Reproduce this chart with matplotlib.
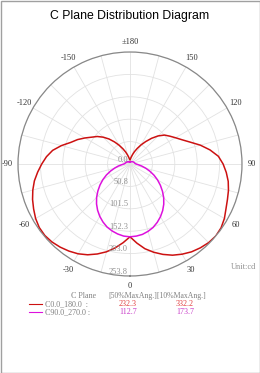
import numpy as np
import matplotlib
matplotlib.use('Agg')
import matplotlib.pyplot as plt
from matplotlib.lines import Line2D
from matplotlib.patches import Rectangle
from matplotlib.transforms import offset_copy

# gamma angles (deg) for every C-plane half
gamma = [0, 5, 10, 15, 20, 25, 30, 35, 40, 45, 50, 55, 60, 65, 70, 75, 80, 85, 90,
         95, 100, 105, 110, 115, 120, 125, 130, 135, 140, 145, 150, 155, 160, 165, 170, 175, 180]

# intensities (cd)
c0 = [165, 180, 195, 207, 218, 228, 236, 243, 248, 252, 253.8, 252, 247, 240, 235, 231, 226, 219, 211,
      201, 184, 165, 145, 130, 119, 110, 102, 90, 76, 62, 50, 39, 30, 22, 16, 12, 10]
c180 = [165, 179, 193, 206, 217, 227, 235, 241, 246, 250, 252, 251, 247, 241, 235, 228, 220, 210, 200,
        190, 178, 161, 143, 131, 118, 106, 97, 86, 74, 61, 49, 38, 29, 21, 15, 11, 10]
c90 = [165, 164, 162, 158, 153, 146, 138, 129, 119, 108, 96, 84, 72, 60, 48, 37, 27, 19, 14,
       12, 11, 10.5, 10, 9.5, 9, 8.5, 8, 7.5, 7, 6.5, 6, 5.5, 5, 5, 5, 5, 5]
c270 = [165, 164, 161, 157, 152, 145, 137, 128, 118, 107, 95, 83, 71, 59, 47, 36, 27, 19, 14,
        12, 11, 10, 10, 9, 9, 8, 8, 7, 7, 6, 6, 5, 5, 5, 5, 5, 5]

rings = [0.0, 50.8, 101.5, 152.3, 203.0, 253.8]
ring_labels = ['0.0', '50.8', '101.5', '152.3', '203.0', '253.8']
angle_labels = ['0', '30', '60', '90', '120', '150', '±180', '-150', '-120', '-90', '-60', '-30']

legend_names = ['C0.0_180.0  :', 'C90.0_270.0 :']
beam50 = ['232.3', '112.7']
beam10 = ['332.2', '173.7']

red = '#cc1111'
mag = '#dd11dd'
serif = ['Liberation Serif', 'DejaVu Serif']

W, H = 260, 373
fig = plt.figure(figsize=(W / 100, H / 100), dpi=100)


def fx(x):
    return x / W


def fy(y):
    return 1 - y / H


cx, cy, R = 130, 164, 112
ax = fig.add_axes([fx(cx - R), fy(cy + R), 2 * R / W, 2 * R / H], projection='polar')
ax.set_theta_zero_location('S')
ax.set_theta_direction(1)


def full_curve(right, left):
    g = np.array(gamma, dtype=float)
    th = np.concatenate([-g[::-1], g[1:]])
    r = np.concatenate([np.array(left)[::-1], np.array(right)[1:]])
    return np.deg2rad(th), r


t, r = full_curve(c0, c180)
ax.plot(t, r, color=red, lw=1.1)
t, r = full_curve(c90, c270)
ax.plot(t, r, color=mag, lw=1.1)

ax.set_ylim(0, rings[-1])
ax.set_yticks(rings[1:])
ax.set_yticklabels([])
ax.set_xticks(np.deg2rad(np.arange(0, 360, 15)))
labs = []
for i in range(24):
    labs.append(angle_labels[i // 2] if i % 2 == 0 else '')
ax.set_xticklabels(labs, fontsize=6, family=serif, color='#333333')
ax.tick_params(axis='x', pad=-3)
ax.grid(True, color='#e2e2e2', lw=0.6)
ax.spines['polar'].set_color('#888888')
ax.spines['polar'].set_linewidth(0.9)

tr = offset_copy(ax.transData, fig=fig, x=-2, y=4.5, units='dots')
for rv, lab in zip(rings, ring_labels):
    ax.text(0, rv, lab, transform=tr, ha='right', va='center', fontsize=6,
            family=serif, color='#909090')

fig.text(0.5, fy(16), 'C Plane Distribution Diagram', ha='center', va='center',
         fontsize=8.8, family=['Liberation Sans', 'DejaVu Sans'])
fig.text(fx(256), fy(267), 'Unit:cd', ha='right', va='center', fontsize=6,
         family=serif, color='#909090')

# legend block
fig.text(fx(71), fy(296), 'C Plane', ha='left', va='center', fontsize=5.8,
         family=serif, color='#808080')
fig.text(fx(108), fy(296), '[50%MaxAng.][10%MaxAng.]', ha='left', va='center',
         fontsize=5.6, family=serif, color='#808080')
rows_y = [304, 312]
cols = [red, mag]
txt_cols = ['#e03a3a', '#c83cc8']
for yy, name, b50, b10, c, tc in zip(rows_y, legend_names, beam50, beam10, cols, txt_cols):
    fig.add_artist(Line2D([fx(29), fx(42)], [fy(yy), fy(yy)], color=c, lw=0.8,
                          transform=fig.transFigure))
    fig.text(fx(45), fy(yy), name, ha='left', va='center', fontsize=5.8,
             family=serif, color='#808080')
    fig.text(fx(128), fy(yy), b50, ha='center', va='center', fontsize=5.8,
             family=serif, color=tc)
    fig.text(fx(185), fy(yy), b10, ha='center', va='center', fontsize=5.8,
             family=serif, color=tc)

fig.patches.append(Rectangle((0.5 / W, 0.5 / H), 1 - 1 / W, 1 - 1 / H, transform=fig.transFigure,
                             fill=False, edgecolor='#a0a0a0', lw=1))

fig.savefig('out.png', dpi=100)
